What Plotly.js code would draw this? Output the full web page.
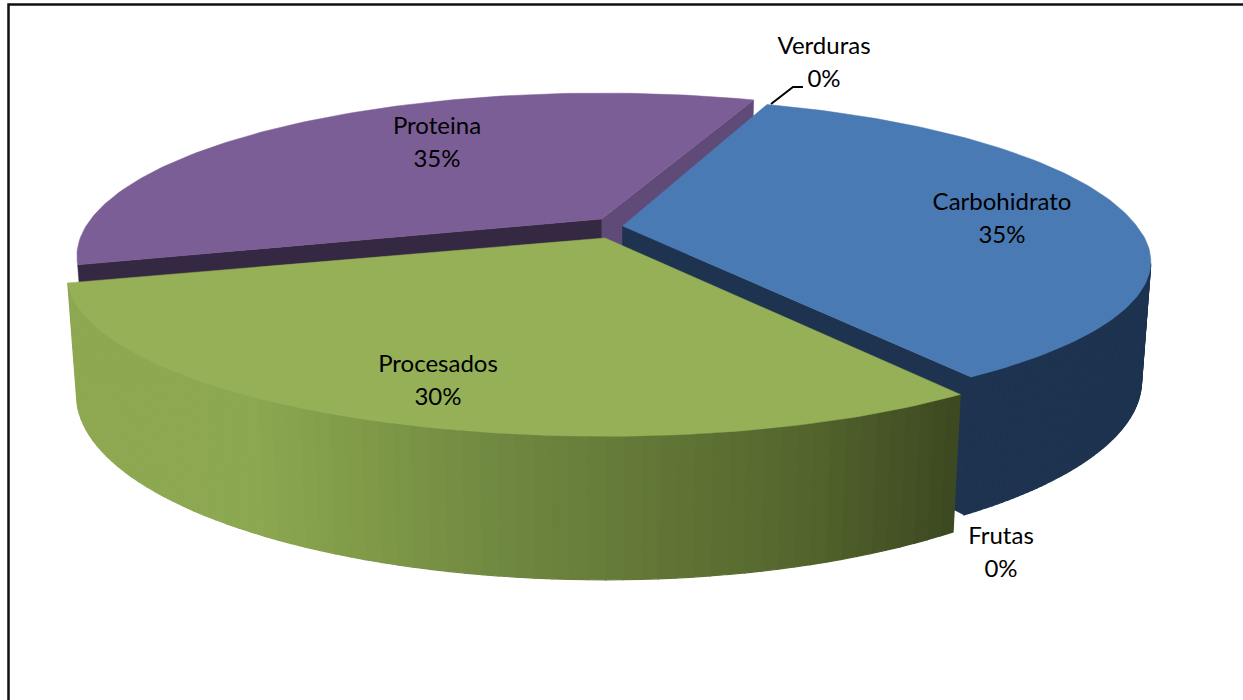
<!DOCTYPE html>
<html><head><meta charset="utf-8">
<script src="https://cdn.plot.ly/plotly-3.0.1.min.js"></script>
<style>html,body{margin:0;padding:0;background:#fff}#c{width:1243px;height:700px}</style>
</head><body><div id="c"></div>
<script>
// Data
const categories = ['Carbohidrato','Frutas','Procesados','Proteina','Verduras'];
const values = [35,0,30,35,0];
const labelX = [1002,1001,438,437,824];
const labelY = [204,538,366,128,48];
const pctOffset = 33;

// Styles
const topColors = {Carbohidrato:'#4a7ab3',Procesados:'#95b056',Proteina:'#7c5e97'};
const rimColors = {Carbohidrato:'#1d3350',Proteina:'#352842'};
const purpleInnerWall = '#5f4a78';
const gradX = [70,250,500,800,960];
const gradC = [[142,168,82],[140,168,80],[112,136,64],[84,102,45],[60,72,32]];

// Perspective geometry of the 3D pie, with per-slice corrections for the exploded view
const F=2140, SIN=0.296, COS=Math.sqrt(1-SIN*SIN), D=4.35*0.954, H=0.236, START=20;
const RIM_VISIBLE_FROM=104;
const geo = {
  Carbohidrato:{o:[622.5,226],t0:0,t1:0.8,sxL:1,sxR:0.997,syF:0.955,syB:1.03},
  Procesados:{o:[605,238],t0:0,t1:0,sxL:1.015,sxR:0.997,syF:1,syB:1},
  Proteina:{o:[601.5,219],t0:-0.3,t1:1,sxL:0.99,sxR:1,syF:1,syB:1.015}
};
function raw(a,r,z){
  const t=a*Math.PI/180, X=r*Math.sin(t), Y=-r*Math.cos(t);
  const w=D-(Y*COS+z*SIN), u=z*COS-Y*SIN;
  return [F*X/w, -F*u/w];
}
function proj(a,r,z,g){
  const p=raw(a,r,z), b=raw(a,r,0);
  const sx=b[0]<0?g.sxL:g.sxR, sy=b[1]>0?g.syF:g.syB;
  return [g.o[0]+sx*b[0]+(p[0]-b[0]), g.o[1]+sy*b[1]+(p[1]-b[1])];
}
function arc(a0,a1,z,g,n){const p=[];for(let i=0;i<=n;i++)p.push(proj(a0+(a1-a0)*i/n,1,z,g));return p;}
function poly(pts,color,lw){
  const xs=pts.map(p=>p[0]).concat([pts[0][0]]), ys=pts.map(p=>p[1]).concat([pts[0][1]]);
  return {type:'scatter',mode:'lines',x:xs,y:ys,fill:'toself',fillcolor:color,
    line:{color:color,width:lw===undefined?0.5:lw},hoverinfo:'skip',showlegend:false};
}
function gradColor(x){
  let i=0; while(i<gradX.length-2 && x>gradX[i+1]) i++;
  const f=Math.max(0,Math.min(1,(x-gradX[i])/(gradX[i+1]-gradX[i])));
  const c=gradC[i].map((v,k)=>Math.round(v+(gradC[i+1][k]-v)*f));
  return 'rgb('+c.join(',')+')';
}
function rim(a0,a1,g,n,colorOf,traces){
  for(let i=0;i<n;i++){
    const s=a0+(a1-a0)*i/n,e=a0+(a1-a0)*(i+1)/n;
    const q=[proj(s,1,0,g),proj(e,1,0,g),proj(e,1,-H,g),proj(s,1,-H,g)];
    traces.push(poly(q,colorOf((q[0][0]+q[1][0])/2),1.2));
  }
}
const total=values.reduce((a,b)=>a+b,0), span={};
let acc=START;
categories.forEach((c,i)=>{const s=values[i]/total*360;
  const g=geo[c];span[c]=g?[acc+g.t0,acc+s+g.t1]:[acc,acc+s];acc+=s;});

const traces=[];
// Purple
{const [a0,a1]=span.Proteina,g=geo.Proteina;
 traces.push(poly([proj(a1,1,0,g),proj(a1,1,-H,g),proj(a1,0,-H,g),proj(a1,0,0,g)],purpleInnerWall));
 traces.push(poly([proj(a0,1,0,g),proj(a0,1,-H,g),proj(a0,0,-H,g),proj(a0,0,0,g)],rimColors.Proteina));
 traces.push(poly([g.o].concat(arc(a0,a1,0,g,120)),topColors.Proteina));
}
// Blue
{const [a0,a1]=span.Carbohidrato,g=geo.Carbohidrato;
 rim(Math.max(a0,RIM_VISIBLE_FROM),a1,g,60,()=>rimColors.Carbohidrato,traces);
 traces.push(poly([proj(a1,1,0,g),proj(a1,1,-H,g),proj(a1,0,-H,g),proj(a1,0,0,g)],rimColors.Carbohidrato));
 traces.push(poly([g.o].concat(arc(a0,a1,0,g,120)),topColors.Carbohidrato));
}
// Green
{const [a0,a1]=span.Procesados,g=geo.Procesados;
 rim(a0,a1,g,70,gradColor,traces);
 traces.push(poly([g.o].concat(arc(a0,a1,0,g,120)),topColors.Procesados));
}
// Leader line and frame
const frameX=[8.5,8.5,1243], frameY=[700,4.5,4.5];
const leaderX=[771,793,803], leaderY=[104,87,87];
traces.push({type:'scatter',mode:'lines',x:frameX,y:frameY,line:{color:'#111',width:2.5},hoverinfo:'skip',showlegend:false});
traces.push({type:'scatter',mode:'lines',x:leaderX,y:leaderY,line:{color:'#000',width:2},hoverinfo:'skip',showlegend:false});
// Labels
traces.push({type:'scatter',mode:'text',
  x:labelX.concat(labelX),
  y:labelY.concat(labelY.map(v=>v+pctOffset)),
  text:categories.concat(values.map(v=>v+'%')),
  textposition:'middle center',
  textfont:{family:'Lato, sans-serif',size:24,color:'#000'},
  hoverinfo:'skip',showlegend:false});

Plotly.newPlot('c',traces,{
  width:1243,height:700,margin:{l:0,r:0,t:0,b:0},
  paper_bgcolor:'#fff',plot_bgcolor:'#fff',showlegend:false,
  xaxis:{range:[0,1243],visible:false,fixedrange:true},
  yaxis:{range:[700,0],visible:false,fixedrange:true}
},{displayModeBar:false,staticPlot:true});
</script></body></html>
